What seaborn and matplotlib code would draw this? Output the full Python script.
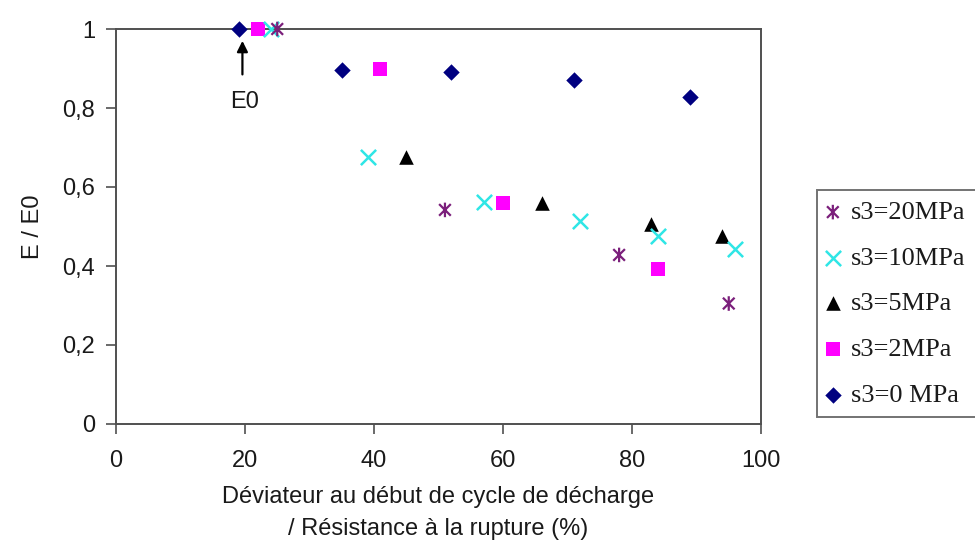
import numpy as np
import pandas as pd
import matplotlib
matplotlib.use("Agg")
import matplotlib.pyplot as plt
from matplotlib.path import Path
import seaborn as sns

# Normalised modulus E/E0 versus deviator at start of unloading / failure strength (%)
series_names = ["s3=20MPa", "s3=10MPa", "s3=5MPa", "s3=2MPa", "s3=0 MPa"]

x_20 = [25, 51, 78, 95]
y_20 = [1.0, 0.542, 0.428, 0.305]

x_10 = [24, 39, 57, 72, 84, 96]
y_10 = [1.0, 0.677, 0.563, 0.513, 0.475, 0.443]

x_5 = [45, 66, 83, 94]
y_5 = [0.675, 0.56, 0.507, 0.475]

x_2 = [22, 41, 60, 84]
y_2 = [1.0, 0.899, 0.56, 0.393]

x_0 = [19, 35, 52, 71, 89]
y_0 = [1.0, 0.896, 0.891, 0.871, 0.828]

x_ticks = [0, 20, 40, 60, 80, 100]
y_ticks = [0, 0.2, 0.4, 0.6, 0.8, 1.0]
y_tick_labels = ["0", "0,2", "0,4", "0,6", "0,8", "1"]

frames = []
for name, xs, ys in zip(series_names,
                        [x_20, x_10, x_5, x_2, x_0],
                        [y_20, y_10, y_5, y_2, y_0]):
    frames.append(pd.DataFrame({"ratio": xs, "E_E0": ys, "serie": name}))
df = pd.concat(frames, ignore_index=True)

sns.set_theme(style="white")
plt.rcParams["font.family"] = ["Liberation Sans", "DejaVu Sans"]

# asterisk marker: an x crossed by a vertical bar
star = Path([(-1, -1), (1, 1), (-1, 1), (1, -1), (0, -1.25), (0, 1.25)],
            [Path.MOVETO, Path.LINETO, Path.MOVETO, Path.LINETO, Path.MOVETO, Path.LINETO])

styles = {
    "s3=20MPa": dict(marker=star, s=110, color="#7b1f7b", facecolor="none", edgecolor="#7b1f7b", linewidth=1.6),
    "s3=10MPa": dict(marker="x", s=120, color="#2fe6e6", linewidth=1.8),
    "s3=5MPa": dict(marker="^", s=110, color="black", edgecolor="black", linewidth=0),
    "s3=2MPa": dict(marker="s", s=100, color="#ff00ff", edgecolor="#ff00ff", linewidth=0),
    "s3=0 MPa": dict(marker="D", s=70, color="#000080", edgecolor="#000080", linewidth=0),
}

fig = plt.figure(figsize=(9.75, 5.44), dpi=100)
ax = fig.add_axes([116 / 975, 1 - 424 / 544, (761 - 116) / 975, (424 - 29) / 544])

for name in series_names[::-1]:
    sub = df[df["serie"] == name]
    sns.scatterplot(data=sub, x="ratio", y="E_E0", ax=ax, label=name,
                    clip_on=False, zorder=3, **styles[name])

ax.set_xlim(0, 100)
ax.set_ylim(0, 1)
ax.set_xticks(x_ticks)
ax.set_xticklabels([str(t) for t in x_ticks])
ax.set_yticks(y_ticks)
ax.set_yticklabels(y_tick_labels)

for side in ["left", "bottom", "top", "right"]:
    ax.spines[side].set_visible(True)
    ax.spines[side].set_color("#505050")
    ax.spines[side].set_linewidth(1.4)

ax.tick_params(axis="both", direction="out", length=7, width=1.2, color="#505050",
               labelsize=17, labelcolor="#1a1a1a", left=True, bottom=True)
ax.tick_params(axis="x", pad=12)
ax.tick_params(axis="y", pad=8)

ax.set_xlabel("Déviateur au début de cycle de décharge\n/ Résistance à la rupture (%)",
              fontsize=17, color="#1a1a1a", linespacing=1.55, labelpad=10)
ax.set_ylabel("E / E0", fontsize=17, color="#1a1a1a", labelpad=13)

# E0 reference arrow and label
ax.annotate("", xy=(19.6, 0.97), xytext=(19.6, 0.885),
            arrowprops=dict(arrowstyle="-|>", color="black", lw=1.6,
                            shrinkA=0, shrinkB=0, mutation_scale=16))
ax.text(20.0, 0.815, "E0", ha="center", va="center", fontsize=17, color="#1a1a1a")

handles, labels = ax.get_legend_handles_labels()
order = [labels.index(n) for n in series_names]
leg = ax.legend([handles[i] for i in order], [labels[i] for i in order],
                loc="upper left", bbox_to_anchor=(817 / 975, 1 - 190 / 544),
                bbox_transform=fig.transFigure, frameon=True, fancybox=False,
                prop={"family": "Liberation Serif", "size": 19},
                labelspacing=0.84, handletextpad=0.5, handlelength=0.4,
                borderpad=0.4, borderaxespad=0)
leg.get_frame().set_edgecolor("#505050")
leg.get_frame().set_linewidth(1.4)
for t in leg.get_texts():
    t.set_color("#1a1a1a")

fig.savefig("out.png", dpi=100)
